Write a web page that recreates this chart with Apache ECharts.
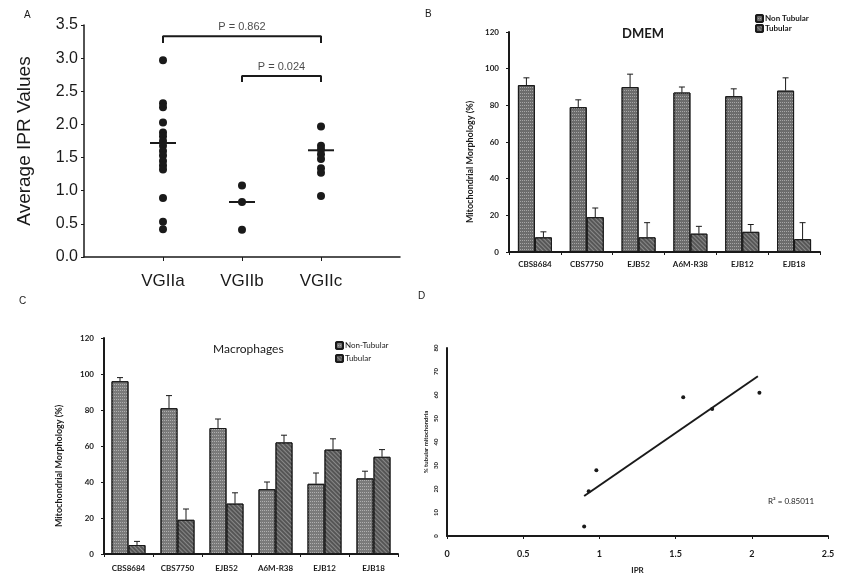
<!DOCTYPE html>
<html>
<head>
<meta charset="utf-8">
<script src="https://cdn.jsdelivr.net/npm/echarts@6/dist/echarts.min.js"></script>
<style>
  html, body { margin: 0; padding: 0; background: #fff; }
  #chart { width: 848px; height: 583px; }
</style>
</head>
<body>
<div id="chart"></div>
<script>
// Panel A: IPR values per group
const groupNames = ['VGIIa', 'VGIIb', 'VGIIc']
const vgiiaIpr = [2.97, 2.32, 2.26, 2.03, 1.88, 1.82, 1.75, 1.68, 1.6, 1.53, 1.45, 1.38, 1.32, 0.89, 0.53, 0.42]
const vgiibIpr = [1.08, 0.83, 0.41]
const vgiicIpr = [1.97, 1.68, 1.62, 1.55, 1.48, 1.34, 1.27, 0.92]
const groupMeans = [1.72, 0.83, 1.61]
const pLabels = ['P = 0.862', 'P = 0.024']

// Panels B and C: mitochondrial morphology
const strains = ['CBS8684', 'CBS7750', 'EJB52', 'A6M-R38', 'EJB12', 'EJB18']
const dmemNonTubular = [91, 79, 90, 87, 85, 88]
const dmemNonTubularErr = [4, 4, 7, 3, 4, 7]
const dmemTubular = [8, 19, 8, 10, 11, 7]
const dmemTubularErr = [3, 5, 8, 4, 4, 9]
const macNonTubular = [96, 81, 70, 36, 39, 42]
const macNonTubularErr = [2, 7, 5, 4, 6, 4]
const macTubular = [5, 19, 28, 62, 58, 54]
const macTubularErr = [2, 6, 6, 4, 6, 4]

// Panel D: IPR vs % tubular
const iprPoints = [[0.9, 4], [0.93, 19], [0.98, 28], [1.55, 59], [1.74, 54], [2.05, 61]]
const trendLine = [[0.9, 17], [2.04, 68]]
const rSquared = 'R² = 0.85011'

const chart = echarts.init(document.getElementById('chart'))

const ink = '#1a1a1a'
const calibri = 'Lato, "Open Sans", sans-serif'
const arial = '"Liberation Sans", Arial, sans-serif'
const BAR_W = 17

const dotHatch = { symbol: 'rect', symbolSize: 1, color: 'rgba(255,255,255,0.4)', dashArrayX: [1, 1], dashArrayY: [1, 2], rotation: 0 }
const lineHatch = { symbol: 'rect', symbolSize: 1, color: 'rgba(255,255,255,0.3)', dashArrayX: [1, 0], dashArrayY: [1, 2], rotation: Math.PI / 4 }

function barSeries(name, axis, values, color, decal) {
  return {
    name,
    type: 'bar',
    xAxisIndex: axis,
    yAxisIndex: axis,
    data: values,
    barWidth: BAR_W,
    barGap: '0%',
    itemStyle: { color, borderColor: ink, borderWidth: 1, decal }
  }
}

function errorSeries(axis, values, errs, offset) {
  return {
    type: 'custom',
    xAxisIndex: axis,
    yAxisIndex: axis,
    data: values.map((v, i) => [i, v, v + errs[i]]),
    z: 5,
    silent: true,
    renderItem: (params, api) => {
      const lo = api.coord([api.value(0), api.value(1)])
      const hi = api.coord([api.value(0), api.value(2)])
      const x = lo[0] + offset
      const style = { stroke: ink, lineWidth: 1 }
      return {
        type: 'group',
        children: [
          { type: 'line', shape: { x1: x, y1: lo[1], x2: x, y2: hi[1] }, style },
          { type: 'line', shape: { x1: x - 3, y1: hi[1], x2: x + 3, y2: hi[1] }, style }
        ]
      }
    }
  }
}

function barYAxis(index, gap) {
  return {
    gridIndex: index,
    type: 'value',
    min: 0,
    max: 120,
    interval: 20,
    name: 'Mitochondrial Morphology (%)',
    nameLocation: 'middle',
    nameGap: gap,
    nameTextStyle: { fontFamily: calibri, fontSize: 9, fontWeight: 'bold', color: ink, padding: [0, 40, 0, 0] },
    axisLine: { show: true, lineStyle: { color: ink, width: 2 } },
    axisTick: { show: true, length: 3, lineStyle: { color: ink } },
    axisLabel: { fontFamily: calibri, fontSize: 8, fontWeight: 'bold', color: ink, margin: 10 },
    splitLine: { show: false }
  }
}

function barXAxis(index, margin) {
  return {
    gridIndex: index,
    type: 'category',
    data: strains,
    axisLine: { lineStyle: { color: ink, width: 2 } },
    axisTick: { show: true, length: 3, lineStyle: { color: ink } },
    axisLabel: { fontFamily: calibri, fontSize: 8, fontWeight: 'bold', color: ink, margin, interval: 0 }
  }
}

const option = {
  backgroundColor: '#fff',
  animation: false,
  title: [
    { text: 'A', left: 19, top: 5, textStyle: { fontFamily: arial, fontSize: 10, fontWeight: 'normal', color: ink } },
    { text: 'B', left: 420, top: 4, textStyle: { fontFamily: arial, fontSize: 10, fontWeight: 'normal', color: ink } },
    { text: 'C', left: 14, top: 291, textStyle: { fontFamily: arial, fontSize: 10, fontWeight: 'normal', color: ink } },
    { text: 'D', left: 413, top: 286, textStyle: { fontFamily: arial, fontSize: 10, fontWeight: 'normal', color: ink } },
    { text: 'DMEM', left: 617, top: 22, textStyle: { fontFamily: calibri, fontSize: 13, fontWeight: 'bold', color: ink } },
    { text: 'Macrophages', left: 208, top: 338, textStyle: { fontFamily: calibri, fontSize: 12, fontWeight: 'normal', color: ink } },
    { text: rSquared, left: 763, top: 492, textStyle: { fontFamily: calibri, fontSize: 8, fontWeight: 'normal', color: ink } }
  ],
  legend: [
    {
      data: ['Non Tubular', 'Tubular'],
      orient: 'vertical',
      left: 750,
      top: 9,
      itemWidth: 7,
      itemHeight: 7,
      itemGap: 1,
      textStyle: { fontFamily: calibri, fontSize: 8, fontWeight: 'bold', color: ink, padding: [0, 0, 0, -3] }
    },
    {
      data: ['Non-Tubular', 'Tubular'],
      orient: 'vertical',
      left: 330,
      top: 336,
      itemWidth: 7,
      itemHeight: 7,
      itemGap: 4,
      textStyle: { fontFamily: calibri, fontSize: 8, color: ink, padding: [0, 0, 0, -3] }
    }
  ],
  grid: [
    { left: 84, right: 448, top: 25, bottom: 326 },
    { left: 509, right: 28, top: 32, bottom: 331 },
    { left: 104, right: 450, top: 338, bottom: 29 },
    { left: 447, right: 20, top: 348, bottom: 47 }
  ],
  xAxis: [
    {
      gridIndex: 0,
      type: 'value',
      min: 0,
      max: 4,
      interval: 1,
      axisLine: { show: true, lineStyle: { color: ink, width: 1.5 } },
      axisTick: { show: true, length: 4, inside: false, customValues: [1, 2, 3], lineStyle: { color: ink } },
      axisLabel: {
        customValues: [1, 2, 3],
        formatter: (v) => groupNames[v - 1] || '',
        fontFamily: arial,
        fontSize: 17,
        color: ink,
        margin: 16
      },
      splitLine: { show: false }
    },
    barXAxis(1, 8),
    barXAxis(2, 10),
    {
      gridIndex: 3,
      type: 'value',
      min: 0,
      max: 2.5,
      interval: 0.5,
      name: 'IPR',
      nameLocation: 'middle',
      nameGap: 30,
      nameTextStyle: { fontFamily: calibri, fontSize: 8, fontWeight: 'bold', color: ink },
      axisLine: { show: true, lineStyle: { color: ink, width: 2 } },
      axisTick: { show: true, length: 3, lineStyle: { color: ink } },
      axisLabel: { fontFamily: calibri, fontSize: 9, fontWeight: 'bold', color: ink, margin: 14 },
      splitLine: { show: false }
    }
  ],
  yAxis: [
    {
      gridIndex: 0,
      type: 'value',
      min: 0,
      max: 3.5,
      interval: 0.5,
      name: 'Average IPR Values',
      nameLocation: 'middle',
      nameGap: 50,
      nameTextStyle: { fontFamily: arial, fontSize: 19, color: ink },
      axisLine: { show: true, lineStyle: { color: ink, width: 1.5 } },
      axisTick: { show: true, length: 3, lineStyle: { color: ink } },
      axisLabel: { fontFamily: arial, fontSize: 16, color: ink, margin: 6, formatter: (v) => v.toFixed(1) },
      splitLine: { show: false }
    },
    barYAxis(1, 34),
    barYAxis(2, 40),
    {
      gridIndex: 3,
      type: 'value',
      min: 0,
      max: 80,
      interval: 10,
      name: '% tubular mitochondria',
      nameLocation: 'middle',
      nameGap: 18,
      nameTextStyle: { fontFamily: calibri, fontSize: 6, fontWeight: 'bold', color: ink },
      axisLine: { show: true, lineStyle: { color: ink, width: 2 } },
      axisTick: { show: false },
      axisLabel: { fontFamily: calibri, fontSize: 6, fontWeight: 'bold', color: ink, margin: 8, rotate: 90 },
      splitLine: { show: false }
    }
  ],
  series: [
    // Panel A
    ...[vgiiaIpr, vgiibIpr, vgiicIpr].map((vals, g) => ({
      type: 'scatter',
      xAxisIndex: 0,
      yAxisIndex: 0,
      symbol: 'circle',
      symbolSize: 8,
      itemStyle: { color: ink, opacity: 1 },
      data: vals.map((v) => [g + 1, v])
    })),
    {
      type: 'scatter',
      xAxisIndex: 0,
      yAxisIndex: 0,
      symbol: 'rect',
      symbolSize: [26, 2],
      itemStyle: { color: ink, opacity: 1 },
      data: groupMeans.map((v, g) => [g + 1, v])
    },
    {
      type: 'line',
      xAxisIndex: 0,
      yAxisIndex: 0,
      symbol: 'none',
      lineStyle: { color: ink, width: 2 },
      data: [[1, 3.23], [1, 3.33], [3, 3.33], [3, 3.23]]
    },
    {
      type: 'line',
      xAxisIndex: 0,
      yAxisIndex: 0,
      symbol: 'none',
      lineStyle: { color: ink, width: 2 },
      data: [[2, 2.64], [2, 2.73], [3, 2.73], [3, 2.64]]
    },
    {
      type: 'scatter',
      xAxisIndex: 0,
      yAxisIndex: 0,
      symbolSize: 0,
      data: [[2, 3.33], [2.5, 2.73]],
      label: {
        show: true,
        position: 'top',
        distance: 4,
        formatter: (p) => pLabels[p.dataIndex],
        fontFamily: arial,
        fontSize: 11,
        color: ink
      }
    },
    // Panel B
    barSeries('Non Tubular', 1, dmemNonTubular, '#6c6c6c', dotHatch),
    barSeries('Tubular', 1, dmemTubular, '#575757', lineHatch),
    errorSeries(1, dmemNonTubular, dmemNonTubularErr, -BAR_W / 2),
    errorSeries(1, dmemTubular, dmemTubularErr, BAR_W / 2),
    // Panel C
    barSeries('Non-Tubular', 2, macNonTubular, '#7a7a7a', dotHatch),
    barSeries('Tubular', 2, macTubular, '#555555', lineHatch),
    errorSeries(2, macNonTubular, macNonTubularErr, -BAR_W / 2),
    errorSeries(2, macTubular, macTubularErr, BAR_W / 2),
    // Panel D
    {
      type: 'scatter',
      xAxisIndex: 3,
      yAxisIndex: 3,
      symbolSize: 4,
      itemStyle: { color: ink, opacity: 1 },
      data: iprPoints
    },
    {
      type: 'line',
      xAxisIndex: 3,
      yAxisIndex: 3,
      symbol: 'none',
      lineStyle: { color: ink, width: 2 },
      data: trendLine
    }
  ]
}

chart.setOption(option)
</script>
</body>
</html>
